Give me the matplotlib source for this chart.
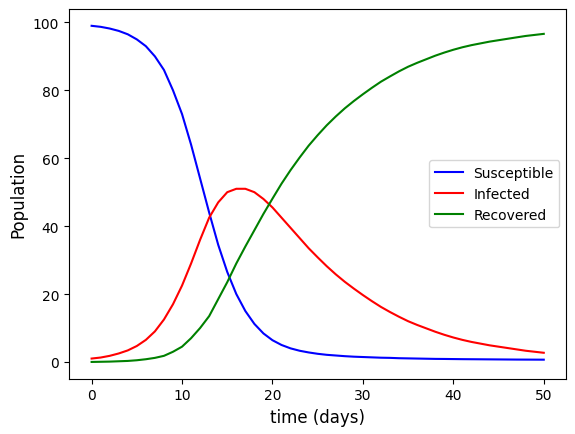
import matplotlib
matplotlib.use("Agg")
import matplotlib.pyplot as plt

days = list(range(51))
susceptible = [99.0,98.7,98.2,97.5,96.5,95.0,93.0,90.0,86.0,80.0,73.0,64.0,54.0,44.0,34.5,26.5,20.0,15.0,11.2,8.4,
               6.4,5.0,4.0,3.3,2.8,2.4,2.1,1.9,1.7,1.55,1.45,1.35,1.25,1.2,1.1,1.05,1.0,0.95,0.9,0.88,
               0.85,0.82,0.8,0.78,0.76,0.74,0.72,0.7,0.69,0.68,0.67]
infected = [1.0,1.3,1.8,2.5,3.4,4.7,6.5,9.0,12.5,17.0,22.5,29.0,36.0,42.5,47.0,50.0,51.0,51.0,50.0,48.0,
            45.5,42.5,39.5,36.5,33.5,30.8,28.2,25.8,23.6,21.6,19.7,17.9,16.2,14.7,13.3,12.0,10.9,9.9,8.9,8.0,
            7.2,6.5,5.9,5.4,4.9,4.5,4.1,3.7,3.3,3.0,2.7]
recovered = [0.0,0.05,0.1,0.2,0.3,0.5,0.8,1.2,1.8,3.0,4.5,7.0,10.0,13.5,18.5,23.5,29.0,34.0,38.8,43.6,
             48.1,52.5,56.5,60.2,63.7,66.8,69.7,72.3,74.7,76.85,78.85,80.75,82.55,84.1,85.6,86.95,88.1,89.15,90.2,91.12,
             91.95,92.68,93.3,93.82,94.34,94.76,95.18,95.6,96.01,96.32,96.63]

fig, ax = plt.subplots(figsize=(5.75, 4.35), dpi=100)
fig.subplots_adjust(left=0.12, right=0.985, top=0.977, bottom=0.127)
ax.plot(days, susceptible, color="blue", label="Susceptible")
ax.plot(days, infected, color="red", label="Infected")
ax.plot(days, recovered, color="green", label="Recovered")
ax.set_xlabel("time (days)", fontsize=12)
ax.set_ylabel("Population", fontsize=12)
ax.legend(loc="center right")
fig.savefig("out.png")
